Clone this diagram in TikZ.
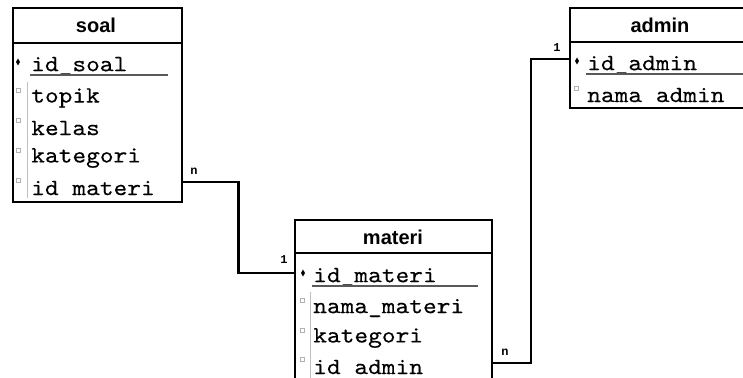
\documentclass[tikz,border=0pt]{standalone}
\usepackage{fontspec}
\usepackage{tikz}
\usetikzlibrary{calc,fit}
\newfontfamily\fieldfont[FakeStretch=1.12,FakeBold=0.3]{lmmono10-regular.otf}
\newfontfamily\cardfont{Liberation Mono}
\newfontfamily\headfont{Liberation Sans}

\begin{document}
\begin{tikzpicture}[x=0.75pt,y=-0.75pt,
    tbl/.style={draw,line width=2pt,inner sep=0pt},
    head/.style={inner sep=0pt,font=\headfont\bfseries\fontsize{15}{18}\selectfont},
    field/.style={anchor=west,inner sep=0pt,font=\fieldfont\fontsize{17.5}{20}\selectfont},
    card/.style={inner sep=0pt,font=\cardfont\bfseries\fontsize{9}{10}\selectfont},
    rel/.style={line width=2pt},
    keyline/.style={draw=black!65,line width=0.9pt},
    fkbox/.style={draw=black!30,line width=0.5pt},
    fkline/.style={draw=black!25,line width=0.6pt}]
    \useasboundingbox (0,0) rectangle (743,378);
    \clip (0,0) rectangle (743,378);
    \fill[white] (0,0) rectangle (743,378);

    % soal
    \node[tbl,fit={(13,8) (182,202)}] (soal) {};
    \draw[line width=2pt] (soal.west |- 0,43) -- (soal.east |- 0,43);
    \node[head] (soalh) at (96,25) {soal};
    \node[field] (soal1) at (31,66) {id\_soal};
    \node[field] (soal2) at (31,98) {topik};
    \node[field] (soal3) at (31,128) {kelas};
    \node[field] (soal4) at (31,158) {kategori};
    \node[field] (soal5) at (31,188) {id materi};
    \draw[keyline] (30,75) -- (168,75);
    \fill (18,58.5) -- (20,62) -- (18,65.5) -- (16,62) -- cycle;
    \draw[fkline] (27,82) -- (27,198);
    \foreach \y in {98,128,158,188}
        \draw[fkbox] (16.5,\y-10) rectangle ++(4,4);

    % materi
    \node[tbl,fit={(295,220) (492,400)}] (materi) {};
    \draw[line width=2pt] (materi.west |- 0,253) -- (materi.east |- 0,253);
    \node[head] (materih) at (393,237) {materi};
    \node[field] (materi1) at (313,277) {id\_materi};
    \node[field] (materi2) at (313,308) {nama\_materi};
    \node[field] (materi3) at (313,338) {kategori};
    \node[field] (materi4) at (313,367) {id admin};
    \draw[keyline] (312,286) -- (478,286);
    \fill (303,269.5) -- (305,273) -- (303,276.5) -- (301,273) -- cycle;
    \draw[fkline] (310,292) -- (310,378);
    \foreach \y in {308,338,367}
        \draw[fkbox] (300.5,\y-10) rectangle ++(4,4);

    % admin
    \node[tbl,fit={(570,8) (760,108)}] (admin) {};
    \draw[line width=2pt] (admin.west |- 0,42) -- (admin.east |- 0,42);
    \node[head] (adminh) at (660,25) {admin};
    \node[field] (admin1) at (587,65) {id\_admin};
    \node[field] (admin2) at (587,95) {nama admin};
    \draw[keyline] (586,74) -- (743,74);
    \fill (577,57.5) -- (579,61) -- (577,64.5) -- (575,61) -- cycle;
    \draw[fkbox] (574.5,86) rectangle ++(4,4);

    % relasi
    \coordinate (s1) at (soal.east |- 0,182);
    \coordinate (m1) at (materi.west |- 0,273);
    \draw[rel] (s1) -| ($(s1)!0.5!(m1)$) |- (m1);
    \coordinate (m2) at (materi.east |- 0,363);
    \coordinate (a1) at (admin.west |- 0,59);
    \draw[rel] (m2) -| ($(m2)!0.5!(a1)$) |- (a1);

    \node[card] (c1) at (194,171) {n};
    \node[card] (c2) at (284,260) {1};
    \node[card] (c3) at (505,352) {n};
    \node[card] (c4) at (557,48) {1};
\end{tikzpicture}
\end{document}
